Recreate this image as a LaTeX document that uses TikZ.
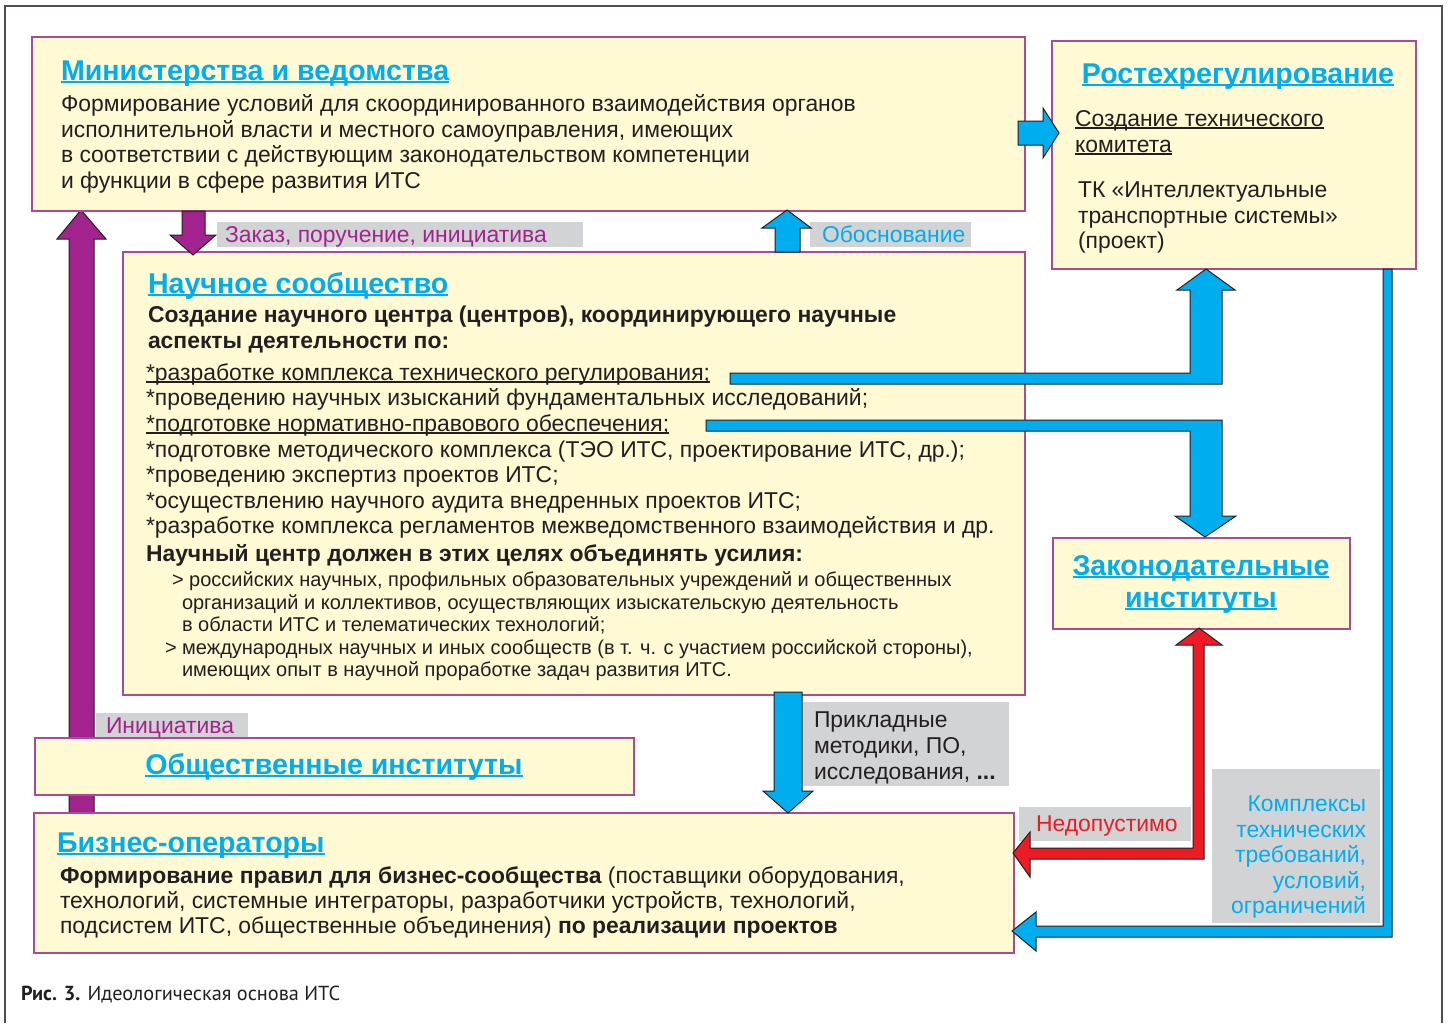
\documentclass[tikz,border=0pt]{standalone}
\usepackage{fontspec}
\setmainfont{Liberation Sans}
\newfontfamily\capfont{PT Sans}
\definecolor{ylw}{HTML}{FFF9D4}
\definecolor{brd}{HTML}{A94C91}
\definecolor{cyanc}{HTML}{00AEEF}
\definecolor{mag}{HTML}{A3238E}
\definecolor{redc}{HTML}{ED1C24}
\definecolor{grayc}{HTML}{D1D3D4}
\definecolor{ink}{HTML}{231F20}
\newcommand\fBody{\fontsize{22.9}{25}\selectfont}
\newcommand\fHead{\fontsize{28.6}{30}\selectfont\bfseries}
\newcommand\fSmall{\fontsize{20}{22}\selectfont}
\newcommand\fCap{\fontsize{20.3}{22}\selectfont\capfont}
\newcommand\myul[1]{\setbox0\hbox{#1}\rlap{\rule[-0.12em]{\wd0}{0.07em}}\box0}
\tikzset{
 bx/.style={draw=brd, line width=2.5pt, fill=ylw, anchor=north west, inner sep=0, outer sep=0},
 lb/.style={fill=grayc, anchor=north west, inner sep=0, outer sep=0},
 tx/.style={anchor=base west, inner sep=0, outer sep=0, text=ink, font=\fBody},
 sm/.style={anchor=base west, inner sep=0, outer sep=0, text=ink, font=\fSmall},
 hd/.style={anchor=base west, inner sep=0, outer sep=0, text=cyanc, font=\fHead},
 hdc/.style={anchor=base, inner sep=0, outer sep=0, text=cyanc, font=\fHead},
 marr/.style={fill=mag, draw=ink, line width=1pt},
 barr/.style={fill=cyanc, draw=ink, line width=1pt},
 rarr/.style={fill=redc, draw=ink, line width=1pt},
 frm/.style={draw=ink!80, line width=1.3pt}
}
\begin{document}
\begin{tikzpicture}[x=1pt,y=-1pt,line join=miter]
\useasboundingbox (0,0) rectangle (1451,1023);
\fill[white] (0,0) rectangle (1451,1023);
\draw[frm] (5,1023) -- (5,6) -- (1442,6) -- (1442,1023);

% initiative arrow (behind boxes)
\draw[marr] (69,813) -- (69,239) -- (57,239) -- (81,210) -- (106,239) -- (94,239) -- (94,813) -- cycle;

% boxes
\node[bx, minimum width=993, minimum height=174] (min) at (32,37) {};
\node[bx, minimum width=364, minimum height=228] (rst) at (1052,41) {};
\node[bx, minimum width=902, minimum height=443] (sci) at (123,252) {};
\node[bx, minimum width=297, minimum height=91] (law) at (1053,538) {};
\node[bx, minimum width=599, minimum height=57] (pub) at (35,738) {};
\node[bx, minimum width=980, minimum height=140] (bus) at (34,813) {};

% gray labels
\node[lb, minimum width=366, minimum height=25] (g1) at (217,222) {};
\node[lb, minimum width=161, minimum height=25] (g2) at (810,222) {};
\node[lb, minimum width=152, minimum height=24] (g3) at (96,713) {};
\node[lb, minimum width=206, minimum height=84] (g4) at (803,702) {};
\node[lb, minimum width=172, minimum height=34] (g5) at (1019,807) {};
\node[lb, minimum width=168, minimum height=154] (g6) at (1212,769) {};

% arrows
\draw[marr] (182,211) -- (205,211) -- (205,235) -- (216,235) -- (193,255) -- (170,235) -- (182,235) -- cycle;
\draw[barr] (775,252) -- (775,228) -- (762,228) -- (787,210) -- (811,228) -- (800,228) -- (800,252) -- cycle;
\draw[barr] (1018,121) -- (1043,121) -- (1043,108) -- (1059,133) -- (1043,158) -- (1043,145) -- (1018,145) -- cycle;
\draw[barr] (730,384) -- (1222,384) -- (1222,290) -- (1235,290) -- (1206,269) -- (1177,290) -- (1190,290) -- (1190,373) -- (730,373) -- cycle;
\draw[barr] (706,420) -- (1222,420) -- (1222,516) -- (1236,516) -- (1205,537) -- (1175,516) -- (1190,516) -- (1190,431) -- (706,431) -- cycle;
\draw[barr] (774,692) -- (802,692) -- (802,791) -- (813,791) -- (788,813) -- (763,791) -- (774,791) -- cycle;
\draw[rarr] (1199,628) -- (1222,645) -- (1204,645) -- (1204,859) -- (1030,859) -- (1030,877) -- (1013,853) -- (1030,832) -- (1030,848) -- (1193,848) -- (1193,645) -- (1176,645) -- cycle;
\draw[barr] (1383,269) -- (1392,269) -- (1392,937) -- (1036,937) -- (1036,951) -- (1012,931) -- (1036,912) -- (1036,926) -- (1383,926) -- cycle;

% box 1 texts
\node[hd] (h1) at (61,80) {\myul{Министерства и ведомства}};
\node[tx] (m1) at (61,111) {Формирование условий для скоординированного взаимодействия органов};
\node[tx] (m2) at (61,137) {исполнительной власти и местного самоуправления, имеющих};
\node[tx] (m3) at (61,162) {в соответствии с действующим законодательством компетенции};
\node[tx] (m4) at (61,188) {и функции в сфере развития ИТС};

% box 2 texts
\node[hdc] (h2) at (1238,83) {\myul{Ростехрегулирование}};
\node[tx] (r1) at (1075,126) {\myul{Создание технического}};
\node[tx] (r2) at (1075,152) {\myul{комитета}};
\node[tx] (r3) at (1078,197) {ТК «Интеллектуальные};
\node[tx] (r4) at (1078,223) {транспортные системы»};
\node[tx] (r5) at (1078,248) {(проект)};

% box 3 texts
\node[hd] (h3) at (148,293) {\myul{Научное сообщество}};
\node[tx, font=\fBody\bfseries] (s1) at (148,322) {Создание научного центра (центров), координирующего научные};
\node[tx, font=\fBody\bfseries] (s2) at (148,348) {аспекты деятельности по:};
\node[tx] (s3) at (146,380) {\myul{*разработке комплекса технического регулирования;}};
\node[tx] (s4) at (146,405) {*проведению научных изысканий фундаментальных исследований;};
\node[tx] (s5) at (146,431) {\myul{*подготовке нормативно-правового обеспечения;}};
\node[tx] (s6) at (146,457) {*подготовке методического комплекса (ТЭО ИТС, проектирование ИТС, др.);};
\node[tx] (s7) at (146,482) {*проведению экспертиз проектов ИТС;};
\node[tx] (s8) at (146,508) {*осуществлению научного аудита внедренных проектов ИТС;};
\node[tx] (s9) at (146,533) {*разработке комплекса регламентов межведомственного взаимодействия и др.};
\node[tx, font=\fBody\bfseries] (s10) at (146,561) {Научный центр должен в этих целях объединять усилия:};
\node[sm] (s11) at (172,586) {> российских научных, профильных образовательных учреждений и общественных};
\node[sm] (s12) at (182,609) {организаций и коллективов, осуществляющих изыскательскую деятельность};
\node[sm] (s13) at (182,631) {в области ИТС и телематических технологий;};
\node[sm] (s14) at (165,654) {> международных научных и иных сообществ (в т. ч. с участием российской стороны),};
\node[sm] (s15) at (182,676) {имеющих опыт в научной проработке задач развития ИТС.};

% box 4
\node[hdc] (h4a) at (1201,575) {\myul{Законодательные}};
\node[hdc] (h4b) at (1201,607) {\myul{институты}};

% box 5
\node[hdc] (h5) at (334,774) {\myul{Общественные институты}};

% box 6
\node[hd] (h6) at (57,852) {\myul{Бизнес-операторы}};
\node[tx] (b1) at (60,883) {\textbf{Формирование правил для бизнес-сообщества} (поставщики оборудования,};
\node[tx] (b2) at (60,908) {технологий, системные интеграторы, разработчики устройств, технологий,};
\node[tx] (b3) at (60,933) {подсистем ИТС, общественные объединения) \textbf{по реализации проектов}};

% labels
\node[tx, text=mag] (l1) at (225,242) {Заказ, поручение, инициатива};
\node[tx, text=cyanc] (l2) at (822,242) {Обоснование};
\node[tx, text=mag] (l3) at (106,733) {Инициатива};
\node[tx] (l4a) at (814,727) {Прикладные};
\node[tx] (l4b) at (814,753) {методики, ПО,};
\node[tx] (l4c) at (814,779) {исследования, \textbf{...}};
\node[tx, text=redc] (l5) at (1036,831) {Недопустимо};
\node[tx, text=cyanc, anchor=base east] (l6a) at (1366,811) {Комплексы};
\node[tx, text=cyanc, anchor=base east] (l6b) at (1366,837) {технических};
\node[tx, text=cyanc, anchor=base east] (l6c) at (1366,862) {требований,};
\node[tx, text=cyanc, anchor=base east] (l6d) at (1366,888) {условий,};
\node[tx, text=cyanc, anchor=base east] (l6e) at (1366,913) {ограничений};

% caption
\node[tx, font=\fCap] (cap) at (21,1000) {\textbf{Рис. 3.} Идеологическая основа ИТС};
\end{tikzpicture}
\end{document}
